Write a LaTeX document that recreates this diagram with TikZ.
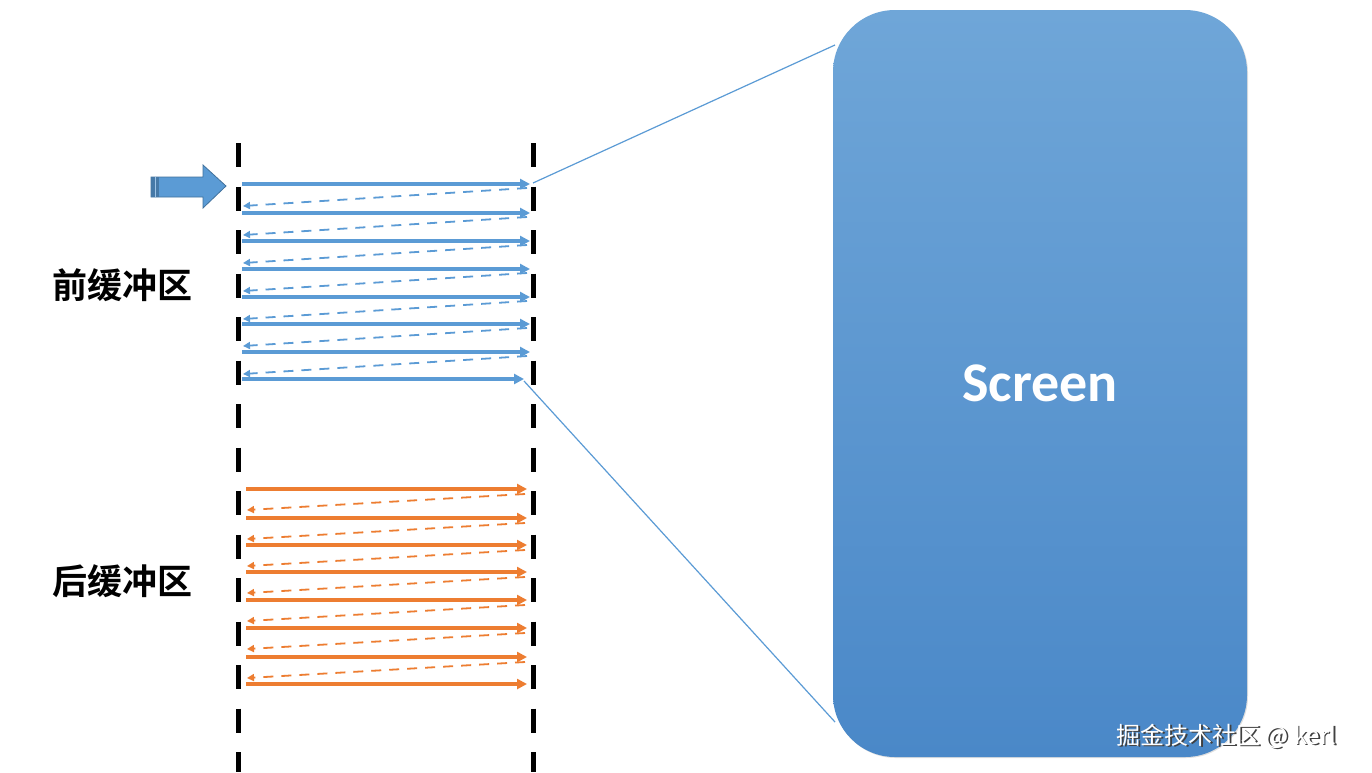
\documentclass[tikz,border=0pt]{standalone}
\usepackage{fontspec}
\setsansfont{Carlito}
\newfontfamily\cjk{Noto Sans CJK SC}
\newfontfamily\cjkb{Noto Sans CJK SC Bold}
\usetikzlibrary{arrows.meta,shadows}
\definecolor{bl}{HTML}{5B9BD5}
\definecolor{bld}{HTML}{41719C}
\definecolor{og}{HTML}{ED7D31}
\definecolor{scrtop}{HTML}{6FA6D8}
\definecolor{scrbot}{HTML}{4A88C8}
\tikzset{
  solidarr/.style={line width=3.4pt,-{Triangle[length=10pt,width=10pt]}},
  dasharr/.style={line width=1.8pt,dash pattern=on 10pt off 8pt,-{Triangle[length=7pt,width=7pt]}},
  bardash/.style={line width=5pt,dash pattern=on 24pt off 19.5pt},
  label/.style={font=\cjkb\fontsize{35}{38}\selectfont,anchor=center},
  zoomline/.style={bl,line width=1.2pt}
}
\begin{document}
\begin{tikzpicture}[x=1pt,y=-1pt]
\useasboundingbox (0,0) rectangle (1372,772);
\fill[white] (0,0) rectangle (1372,772);
% vertical dashed borders
\coordinate (lt) at (238,143); \coordinate (lb) at (238,772);
\coordinate (rt) at (533,143); \coordinate (rb) at (533,772);
\draw[bardash] (lt) -- (lb);
\draw[bardash] (rt) -- (rb);
% front buffer (blue)
\foreach \y [count=\i] in {184,213,241,269,297,324,352,379}{
  \coordinate (fa\i) at (242,\y);
  \coordinate (fb\i) at (530,\y);
}
\coordinate (fb8) at (524,379);
\foreach \i in {1,...,8}{\draw[solidarr,bl] (fa\i) -- (fb\i);}
\foreach \y [count=\i] in {184,213,241,269,297,324,352}{
  \coordinate (fdr\i) at (527,\y+4);
  \coordinate (fdl\i) at (243,\y+22);
  \draw[dasharr,bl] (fdr\i) -- (fdl\i);
}
% back buffer (orange)
\foreach \y [count=\i] in {489,518,545,572,600,628,657,684}{
  \coordinate (ba\i) at (246,\y);
  \coordinate (bb\i) at (527,\y);
}
\foreach \i in {1,...,8}{\draw[solidarr,og] (ba\i) -- (bb\i);}
\foreach \y [count=\i] in {489,518,545,572,600,628,657}{
  \coordinate (bdr\i) at (525,\y+5);
  \coordinate (bdl\i) at (247,\y+21);
  \draw[dasharr,og] (bdr\i) -- (bdl\i);
}
% big input arrow
\fill[bl,draw=bld,line width=0.8pt] (151,177) -- (203,177) -- (203,165) -- (226,186) -- (203,208) -- (203,197) -- (151,197) -- cycle;
\fill[bld!80!bl] (151,177) rectangle (159,197);
\draw[bl!60,line width=0.6pt] (155,177) -- (155,197);
% labels
\node[label] (front) at (122,285) {前缓冲区};
\node[label] (back) at (122,581) {后缓冲区};
% screen
\node[draw=none,rounded corners=62pt,minimum width=414pt,minimum height=747pt,
      top color=scrtop,bottom color=scrbot,
      drop shadow={shadow xshift=1pt,shadow yshift=-1pt,opacity=0.25},
      text=white,font=\sffamily\bfseries\fontsize{56}{60}\selectfont] (screen) at (1040,383.5) {Screen};
% zoom lines
\coordinate (zt) at (835,45);
\coordinate (zb) at (835,722);
\draw[zoomline] (fb1) ++(3,-1) coordinate (zs1) -- (zt);
\draw[zoomline] (fb8) ++(0,2) coordinate (zs2) -- (zb);
% watermark
\node[text=black!75,font=\cjk\fontsize{24}{26}\selectfont,anchor=west] (wms) at (1114.6,737.6) {掘金技术社区 @ kerl};
\node[text=white,font=\cjk\fontsize{24}{26}\selectfont,anchor=west] (wm) at (1113,736) {掘金技术社区 @ kerl};
\end{tikzpicture}
\end{document}
